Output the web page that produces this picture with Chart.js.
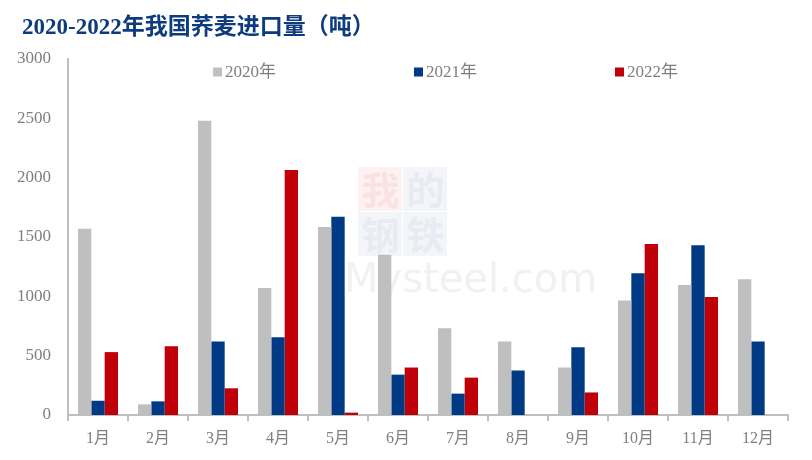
<!DOCTYPE html>
<html>
<head>
<meta charset="utf-8">
<script src="https://cdn.jsdelivr.net/npm/chart.js@4/dist/chart.umd.min.js"></script>
<style>
	body { margin: 0; background: #fff; }
	#wrap { position: relative; width: 812px; height: 460px; }
	#title {
		position: absolute; left: 22px; top: 7px;
		font: bold 23px "Liberation Serif", "Noto Sans CJK SC", serif;
		color: #0d3b7e; white-space: nowrap;
	}
</style>
</head>
<body>
<div id="wrap">
	<div id="title">2020-2022年我国荞麦进口量（吨）</div>
	<canvas id="chart" width="812" height="460"></canvas>
</div>
<script>
let months = ["1月", "2月", "3月", "4月", "5月", "6月", "7月", "8月", "9月", "10月", "11月", "12月"];
let seriesNames = ["2020年", "2021年", "2022年"];
let imports2020 = [1570, 90, 2480, 1070, 1585, 1350, 730, 620, 400, 965, 1095, 1145];
let imports2021 = [120, 115, 620, 655, 1670, 340, 180, 375, 570, 1195, 1430, 620];
let imports2022 = [530, 580, 225, 2065, 20, 400, 315, 0, 190, 1440, 995, 0];
let yTicks = [0, 500, 1000, 1500, 2000, 2500, 3000];

let seriesColors = ["#bfbfbf", "#013a84", "#bf0008"];
let axisColor = "#bfbfbf";
let textColor = "#7f7f7f";
let serif = "'Liberation Serif', 'Noto Sans CJK SC', serif";

// faint mysteel watermark behind the bars
let watermark = {
	id: "watermark",
	beforeDatasetsDraw: function (chart) {
		let ctx = chart.ctx;
		let a = chart.chartArea;
		let x0 = a.left + 290, y0 = a.top + 108, s = 45;
		ctx.save();
		let chars = ["我", "的", "钢", "铁"];
		for (let i = 0; i < 4; i++) {
			let cx = x0 + (i % 2) * s;
			let cy = y0 + Math.floor(i / 2) * s;
			ctx.fillStyle = i == 0 ? "#fdf1f1" : "#f3f5f9";
			ctx.fillRect(cx, cy, s - 1, s - 1);
			ctx.fillStyle = i == 0 ? "#f9e2e2" : "#e7ebf2";
			ctx.font = "bold 38px 'Noto Sans CJK SC'";
			ctx.textAlign = "center";
			ctx.textBaseline = "middle";
			ctx.fillText(chars[i], cx + s / 2, cy + s / 2);
		}
		ctx.fillStyle = "#f1f1f1";
		ctx.font = "40px 'DejaVu Sans'";
		ctx.textAlign = "left";
		ctx.textBaseline = "middle";
		ctx.fillText("Mysteel.com", x0 - 14, y0 + 115);
		ctx.restore();
	}
};

// legend drawn inside the plot area like the original
let innerLegend = {
	id: "innerLegend",
	afterDraw: function (chart) {
		let ctx = chart.ctx;
		let a = chart.chartArea;
		ctx.save();
		ctx.font = "17px " + serif;
		ctx.textBaseline = "middle";
		chart.data.datasets.forEach(function (ds, i) {
			let x = a.left + 145 + i * 201;
			let y = a.top + 13;
			ctx.fillStyle = ds.backgroundColor;
			ctx.fillRect(x, y - 4.5, 9, 9);
			ctx.fillStyle = textColor;
			ctx.fillText(ds.label, x + 12, y + 1);
		});
		ctx.restore();
	}
};

let config = {
	type: "bar",
	data: {
		labels: months,
		datasets: [
			{ label: seriesNames[0], data: imports2020, backgroundColor: seriesColors[0] },
			{ label: seriesNames[1], data: imports2021, backgroundColor: seriesColors[1] },
			{ label: seriesNames[2], data: imports2022, backgroundColor: seriesColors[2] }
		]
	},
	options: {
		responsive: false,
		animation: false,
		layout: { padding: { top: 59, right: 24, left: 0, bottom: 0 } },
		datasets: {
			bar: { categoryPercentage: 0.667, barPercentage: 1.0 }
		},
		plugins: {
			legend: { display: false },
			tooltip: { enabled: false }
		},
		scales: {
			x: {
				grid: {
					offset: true,
					drawOnChartArea: false,
					color: axisColor,
					lineWidth: 2,
					tickLength: 6
				},
				border: { color: axisColor, width: 2 },
				ticks: { color: textColor, font: { family: serif, size: 16 }, padding: 8 },
				afterFit: function (scale) { scale.height = 45; }
			},
			y: {
				min: 0,
				max: 3000,
				afterBuildTicks: function (scale) {
					scale.ticks = yTicks.map(function (v) { return { value: v }; });
				},
				grid: { display: false },
				border: { color: axisColor, width: 2 },
				ticks: {
					color: textColor,
					font: { family: serif, size: 17 },
					padding: 9,
					callback: function (value) { return String(value); }
				},
				afterFit: function (scale) { scale.width = 68; }
			}
		}
	},
	plugins: [watermark, innerLegend]
};

let chartCanvas = new Chart(document.getElementById("chart").getContext("2d"), config);
</script>
</body>
</html>
